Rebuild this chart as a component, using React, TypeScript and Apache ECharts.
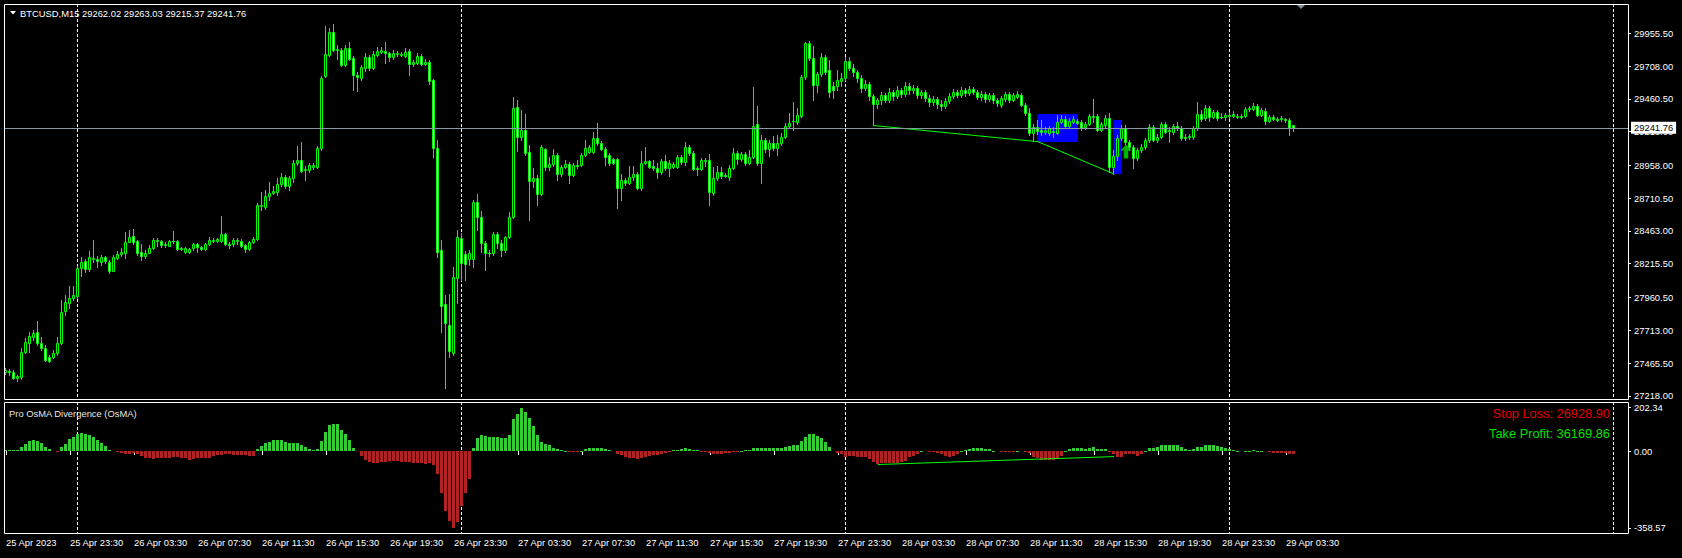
import React, { useEffect, useRef } from 'react';
import * as echarts from 'echarts';

// ---------------------------------------------------------------------------
// Data
// ---------------------------------------------------------------------------
const SYMBOL = 'BTCUSD,M15';
const INDICATOR = 'Pro OsMA Divergence (OsMA)';
const LAST_BAR = [29262.02, 29263.03, 29215.37, 29241.76]; // open, high, low, close
const STOP_LOSS = 26928.9;
const TAKE_PROFIT = 36169.86;

// 15-minute candles as [open, high, low, close]
const candles25Apr = [
  [27398, 27428, 27383, 27413], [27406, 27421, 27375, 27398], [27398, 27413, 27345, 27352], [27352, 27375, 27330, 27367],
  [27360, 27579, 27345, 27549], [27549, 27655, 27541, 27624], [27617, 27700, 27549, 27670], [27662, 27715, 27640, 27692],
  [27700, 27783, 27602, 27617], [27617, 27662, 27564, 27579], [27579, 27602, 27481, 27488], [27511, 27526, 27473, 27481],
  [27511, 27564, 27503, 27541], [27541, 27662, 27526, 27617], [27617, 27942, 27609, 27851], [27858, 27979, 27828, 27926],
  [27919, 28047, 27881, 27957], [27957, 28047, 27942, 27979],
];

const candles26Apr = [
  [27972, 28198, 27957, 28183], [28183, 28266, 28123, 28228], [28236, 28251, 28153, 28176], [28176, 28312, 28161, 28266],
  [28251, 28395, 28228, 28259], [28251, 28274, 28191, 28236], [28228, 28281, 28206, 28266], [28266, 28274, 28221, 28236],
  [28228, 28244, 28146, 28161], [28161, 28281, 28161, 28266], [28259, 28312, 28251, 28289], [28289, 28334, 28274, 28304],
  [28296, 28455, 28259, 28379], [28379, 28470, 28379, 28417], [28425, 28478, 28364, 28379], [28387, 28395, 28281, 28296],
  [28304, 28364, 28244, 28274], [28274, 28319, 28259, 28296], [28296, 28357, 28296, 28334], [28334, 28410, 28327, 28395],
  [28387, 28410, 28349, 28395], [28387, 28395, 28342, 28357], [28357, 28379, 28342, 28364], [28349, 28395, 28349, 28387],
  [28387, 28463, 28372, 28390], [28387, 28395, 28319, 28327], [28334, 28342, 28319, 28327], [28304, 28342, 28296, 28334],
  [28304, 28334, 28296, 28327], [28334, 28372, 28319, 28364], [28364, 28372, 28304, 28342], [28342, 28349, 28319, 28327],
  [28327, 28372, 28319, 28364], [28364, 28417, 28357, 28395], [28387, 28410, 28379, 28395], [28387, 28410, 28379, 28402],
  [28387, 28576, 28379, 28440], [28440, 28447, 28357, 28364], [28364, 28379, 28334, 28357], [28364, 28410, 28349, 28395],
  [28387, 28410, 28364, 28395], [28387, 28402, 28342, 28349], [28357, 28364, 28304, 28327], [28327, 28387, 28319, 28379],
  [28379, 28417, 28372, 28402], [28402, 28674, 28395, 28659], [28651, 28757, 28621, 28659], [28644, 28772, 28629, 28727],
  [28727, 28833, 28697, 28750], [28750, 28802, 28742, 28765], [28757, 28863, 28734, 28817], [28817, 28900, 28802, 28870],
  [28870, 28885, 28787, 28802], [28802, 28878, 28772, 28863], [28863, 28999, 28833, 28976], [28976, 29104, 28961, 28999],
  [28999, 29135, 28908, 28916], [28923, 28953, 28848, 28931], [28923, 28976, 28908, 28961], [28946, 28976, 28931, 28961],
  [28946, 29104, 28938, 29089], [29089, 29633, 29074, 29618], [29633, 30011, 29626, 29799], [29792, 29996, 29784, 29965],
  [29965, 30026, 29822, 29829], [29829, 29867, 29761, 29837], [29829, 29844, 29708, 29716], [29716, 29867, 29708, 29844],
  [29844, 29890, 29754, 29761], [29769, 29784, 29527, 29641], [29641, 29663, 29520, 29626], [29618, 29716, 29603, 29701],
  [29693, 29807, 29671, 29777], [29777, 29792, 29678, 29693], [29693, 29822, 29686, 29799], [29792, 29852, 29784, 29822],
  [29814, 29852, 29807, 29829], [29822, 29890, 29731, 29807], [29807, 29814, 29746, 29777], [29777, 29829, 29761, 29807],
  [29799, 29822, 29784, 29807], [29792, 29814, 29784, 29799], [29784, 29844, 29777, 29814], [29822, 29837, 29641, 29724],
  [29724, 29754, 29708, 29739], [29731, 29807, 29724, 29784], [29784, 29799, 29716, 29724], [29724, 29761, 29716, 29739],
  [29739, 29754, 29573, 29595], [29603, 29610, 29021, 29089], [29089, 29150, 28266, 28304], [28319, 28395, 27700, 27896],
  [27911, 27979, 27277, 27768], [27752, 27987, 27511, 27556], [27541, 28191, 27526, 28115], [28108, 28470, 27919, 28417],
];

const candles27Apr = [
  [28410, 28447, 28093, 28221], [28289, 28312, 28093, 28213], [28251, 28319, 28206, 28296], [28251, 28697, 28191, 28682],
  [28682, 28742, 28470, 28568], [28568, 28614, 28304, 28372], [28372, 28387, 28168, 28296], [28296, 28319, 28274, 28300],
  [28296, 28455, 28281, 28440], [28440, 28455, 28334, 28372], [28372, 28395, 28274, 28319], [28319, 28425, 28304, 28417],
  [28417, 28606, 28410, 28568], [28568, 29474, 28561, 29391], [29399, 29452, 29067, 29172], [29172, 29376, 29150, 29225],
  [29225, 29346, 29036, 29052], [29059, 29112, 28546, 28840], [28840, 28938, 28795, 28863], [28863, 28885, 28659, 28742],
  [28742, 29112, 28734, 29097], [29082, 29089, 28923, 28946], [28946, 29021, 28923, 28968], [28968, 29082, 28953, 29036],
  [29036, 29052, 28848, 28893], [28893, 28961, 28878, 28946], [28946, 28999, 28938, 28968], [28968, 28984, 28825, 28885],
  [28885, 28976, 28878, 28961], [28961, 28999, 28938, 28957], [28961, 29052, 28953, 29036], [29036, 29150, 29029, 29089],
  [29059, 29112, 29052, 29097], [29059, 29210, 29052, 29165], [29165, 29278, 29112, 29127], [29127, 29142, 29074, 29082],
  [29082, 29097, 28961, 29021], [29036, 29052, 28961, 28976], [29006, 29014, 28968, 28976], [29006, 29014, 28636, 28787],
  [28787, 28893, 28697, 28848], [28848, 28863, 28810, 28825], [28825, 28953, 28817, 28870], [28870, 28953, 28848, 28893],
  [28893, 28908, 28780, 28787], [28787, 29067, 28772, 28976], [28976, 29097, 28968, 28991], [28991, 28999, 28938, 28946],
  [28953, 28999, 28923, 28938], [28938, 28976, 28863, 28908], [28908, 29006, 28893, 28991], [28991, 29036, 28923, 28938],
  [28938, 28999, 28878, 28976], [28946, 28984, 28938, 28968], [28946, 29036, 28938, 29021], [29021, 29036, 28968, 28984],
  [28984, 29135, 28961, 29097], [29097, 29112, 29036, 29052], [29052, 29067, 28923, 28931], [28938, 28953, 28885, 28931],
  [28931, 29014, 28923, 28999], [28991, 29014, 28953, 28999], [28999, 29044, 28659, 28757], [28750, 28946, 28734, 28863],
  [28863, 28953, 28848, 28908], [28908, 28946, 28863, 28878], [28885, 28900, 28870, 28878], [28870, 28961, 28848, 28938],
  [28938, 29089, 28931, 29052], [29052, 29067, 28968, 29006], [29006, 29059, 28991, 29044], [29044, 29059, 28961, 28976],
  [28976, 29074, 28968, 29021], [29021, 29550, 29014, 29255], [29271, 29406, 28961, 28976], [28976, 29187, 28825, 29150],
  [29150, 29165, 29059, 29082], [29082, 29150, 29029, 29127], [29127, 29180, 29074, 29089], [29089, 29187, 29036, 29127],
  [29127, 29203, 29112, 29172], [29172, 29278, 29165, 29255], [29255, 29354, 29240, 29278], [29293, 29437, 29225, 29290],
  [29286, 29391, 29271, 29339], [29331, 29641, 29323, 29626], [29626, 29890, 29610, 29882], [29882, 29897, 29754, 29769],
  [29769, 29860, 29452, 29565], [29565, 29663, 29512, 29648], [29648, 29807, 29633, 29777], [29777, 29792, 29648, 29663],
  [29678, 29754, 29474, 29512], [29558, 29588, 29467, 29527], [29558, 29678, 29527, 29603], [29595, 29656, 29558, 29618],
];

const candles28Apr = [
  [29618, 29777, 29603, 29746], [29746, 29777, 29678, 29693], [29693, 29724, 29633, 29663], [29663, 29678, 29588, 29618],
  [29618, 29641, 29512, 29543], [29543, 29603, 29527, 29573], [29573, 29588, 29452, 29482], [29482, 29497, 29263, 29422],
  [29422, 29467, 29391, 29452], [29452, 29512, 29422, 29490], [29490, 29505, 29437, 29452], [29452, 29543, 29437, 29512],
  [29512, 29527, 29452, 29482], [29482, 29558, 29467, 29527], [29527, 29543, 29474, 29497], [29497, 29588, 29482, 29558],
  [29558, 29580, 29497, 29527], [29527, 29565, 29505, 29543], [29543, 29558, 29467, 29490], [29490, 29527, 29467, 29512],
  [29512, 29527, 29444, 29467], [29467, 29490, 29406, 29437], [29437, 29482, 29414, 29459], [29459, 29474, 29391, 29422],
  [29422, 29452, 29376, 29406], [29406, 29467, 29391, 29444], [29444, 29505, 29429, 29482], [29482, 29535, 29467, 29512],
  [29512, 29527, 29474, 29490], [29490, 29550, 29474, 29527], [29527, 29543, 29482, 29505], [29505, 29558, 29490, 29535],
  [29535, 29550, 29497, 29512], [29512, 29527, 29459, 29474], [29474, 29520, 29452, 29497], [29497, 29512, 29437, 29459],
  [29459, 29505, 29444, 29490], [29490, 29505, 29429, 29452], [29452, 29467, 29406, 29429], [29414, 29482, 29399, 29467],
  [29459, 29512, 29444, 29497], [29497, 29512, 29437, 29452], [29452, 29505, 29444, 29490], [29474, 29520, 29467, 29497],
  [29490, 29505, 29406, 29414], [29414, 29429, 29339, 29354], [29354, 29391, 29187, 29203], [29203, 29271, 29142, 29248],
  [29248, 29301, 29195, 29218], [29225, 29301, 29187, 29210], [29210, 29248, 29195, 29225], [29203, 29255, 29187, 29240],
  [29218, 29248, 29172, 29210], [29203, 29339, 29195, 29286], [29286, 29339, 29278, 29308], [29308, 29331, 29248, 29255],
  [29255, 29316, 29248, 29293], [29286, 29331, 29278, 29308], [29293, 29308, 29271, 29278], [29286, 29301, 29225, 29240],
  [29248, 29286, 29233, 29271], [29271, 29346, 29263, 29331], [29331, 29459, 29286, 29323], [29331, 29346, 29218, 29225],
  [29225, 29286, 29218, 29271], [29263, 29339, 29248, 29316], [29316, 29354, 28908, 28946], [28946, 29074, 28893, 29029],
  [29029, 29187, 28999, 29165], [29165, 29263, 29150, 29240], [29240, 29263, 29120, 29135], [29135, 29150, 29074, 29097],
  [29097, 29112, 28938, 29014], [29014, 29089, 28999, 29074], [29074, 29120, 29059, 29097], [29097, 29165, 29082, 29150],
  [29150, 29271, 29135, 29248], [29248, 29263, 29142, 29150], [29150, 29195, 29135, 29172], [29172, 29286, 29165, 29271],
  [29271, 29286, 29203, 29210], [29225, 29248, 29135, 29218], [29210, 29271, 29195, 29255], [29255, 29286, 29225, 29240],
  [29240, 29255, 29150, 29165], [29172, 29195, 29150, 29165], [29172, 29195, 29157, 29180], [29172, 29255, 29157, 29240],
  [29240, 29437, 29225, 29346], [29346, 29376, 29293, 29308], [29316, 29414, 29301, 29391], [29391, 29406, 29293, 29323],
  [29323, 29376, 29316, 29361], [29361, 29376, 29301, 29316], [29323, 29354, 29316, 29320], [29323, 29354, 29301, 29339],
];

const candles29Apr = [
  [29339, 29361, 29316, 29331], [29331, 29369, 29323, 29346], [29323, 29346, 29316, 29331], [29323, 29346, 29316, 29331],
  [29331, 29399, 29323, 29384], [29384, 29406, 29369, 29391], [29384, 29429, 29376, 29406], [29406, 29422, 29331, 29339],
  [29339, 29391, 29331, 29376], [29369, 29391, 29271, 29293], [29293, 29339, 29286, 29323], [29323, 29339, 29301, 29308],
  [29308, 29323, 29293, 29301], [29308, 29331, 29293, 29316], [29308, 29316, 29286, 29301], [29301, 29316, 29187, 29240],
  LAST_BAR,
];

// OsMA histogram, one value per candle
const osma = [
  4, 3, 3, 3, 18, 34, 45, 50, 46, 37,
  18, 8, 0, -3, 18, 34, 54, 65, 78, 84,
  81, 74, 65, 53, 37, 23, 3, 0, -6, -9,
  -14, -14, -9, -12, -23, -31, -34, -36, -31, -31,
  -31, -31, -28, -28, -31, -34, -40, -38, -34, -31,
  -31, -31, -23, -19, -19, -16, -16, -19, -19, -19,
  -19, -22, -22, 8, 23, 37, 43, 51, 53, 50,
  40, 37, 37, 37, 28, 18, 8, 6, 9, 46,
  87, 121, 127, 124, 96, 81, 50, 12, 0, -23,
  -40, -51, -54, -54, -50, -50, -46, -46, -46, -50,
  -50, -51, -54, -56, -56, -59, -54, -65, -108, -194,
  -279, -326, -358.57, -330, -256, -194, -132, 12, 59, 74,
  70, 65, 65, 65, 59, 59, 74, 150, 175, 202.34,
  182, 152, 116, 74, 43, 31, 28, 15, 10, 5,
  2, -3, -5, -4, 2, 8, 12, 15, 16, 14,
  10, 5, 0, -12, -20, -28, -32, -34, -38, -34,
  -28, -24, -20, -18, -12, -8, -5, 3, 6, 8,
  12, 10, 6, 3, -2, -3, -10, -14, -14, -12,
  -10, -8, -4, -2, 2, 3, 4, 14, 12, 14,
  14, 14, 14, 14, 16, 20, 24, 26, 30, 45,
  65, 78, 80, 72, 60, 40, 20, 0, -10, -16,
  -29, -21, -21, -26, -29, -29, -35, -50, -60, -58,
  -57, -56, -56, -55, -52, -48, -26, -21, -16, 1,
  0, -1, -1, -10, -16, -21, -26, -21, -16, 1,
  5, 10, 15, 15, 15, 10, 10, 1, 0, -6,
  -6, -1, -6, 1, 0, -6, -10, -29, -34, -40,
  -40, -40, -40, -31, -21, 1, 10, 15, 15, 15,
  10, 15, 21, 10, 10, 10, -5, -16, -29, -26,
  -16, -16, -16, -21, -16, 1, 15, 15, 21, 30,
  30, 30, 30, 30, 21, 10, 5, 10, 21, 21,
  30, 30, 30, 25, 21, 15, 10, 5, 1, 0,
  1, 1, 5, 1, 1, 0, -5, -10, -10, -10,
  -10, -16, -16,
];

// Axis ticks
const priceTicks = [27218, 27465.5, 27713, 27960.5, 28215.5, 28463, 28710.5, 28958, 29213, 29460.5, 29708, 29955.5];
const osmaTicks = [-358.57, 0, 202.34];
const timeTicks = [
  '25 Apr 2023', '25 Apr 23:30', '26 Apr 03:30', '26 Apr 07:30', '26 Apr 11:30', '26 Apr 15:30', '26 Apr 19:30',
  '26 Apr 23:30', '27 Apr 03:30', '27 Apr 07:30', '27 Apr 11:30', '27 Apr 15:30', '27 Apr 19:30', '27 Apr 23:30',
  '28 Apr 03:30', '28 Apr 07:30', '28 Apr 11:30', '28 Apr 15:30', '28 Apr 19:30', '28 Apr 23:30', '29 Apr 03:30',
];
const BARS_PER_TICK = 16;
const SLOT_COUNT = 406; // visible bar slots, including the empty right margin

// Objects drawn on the chart (bar index, value)
const daySeparators = [18, 114, 210, 306, 402];
const priceDivergence = [[217, 29259], [258, 29137], [277, 28893]];
const osmaDivergence = [[218, -63], [277, -26]];
const zones = [[258, 268, 29346, 29135], [277, 279, 29301, 28893]]; // from bar, to bar, top, bottom
const buySignal = [[280, 29064]];

// ---------------------------------------------------------------------------
// Styling
// ---------------------------------------------------------------------------
const LIME = '#00ff00';
const HIST_UP = '#32cd32';
const HIST_DOWN = '#b22222';
const FONT = '"Liberation Sans", Arial, sans-serif';
const SMALL = 9.4;

const candles = [...candles25Apr, ...candles26Apr, ...candles27Apr, ...candles28Apr, ...candles29Apr];
const slots = Array.from({ length: SLOT_COUNT }, (_, i) => String(i));
const isTick = (idx: number) => idx % BARS_PER_TICK === 0 && idx / BARS_PER_TICK < timeTicks.length;

const column = (api: any, i: number) => Math.round(api.coord([i, 0])[0]) - 1;

function renderCandle(_params: any, api: any) {
  const i = api.value(0);
  const o = api.value(1);
  const h = api.value(2);
  const l = api.value(3);
  const c = api.value(4);
  const x = column(api, i);
  const yo = Math.round(api.coord([i, o])[1]);
  const yc = Math.round(api.coord([i, c])[1]);
  const yh = Math.round(api.coord([i, h])[1]);
  const yl = Math.round(api.coord([i, l])[1]);
  const top = Math.min(yo, yc);
  const bottom = Math.max(yo, yc);
  const children: any[] = [
    { type: 'line', shape: { x1: x + 0.5, y1: yh, x2: x + 0.5, y2: yl + 1 }, style: { stroke: LIME, lineWidth: 1 } },
  ];
  if (bottom - top < 1) {
    children.push({ type: 'line', shape: { x1: x - 1, y1: top + 0.5, x2: x + 2, y2: top + 0.5 }, style: { stroke: LIME, lineWidth: 1 } });
  } else {
    children.push({
      type: 'rect',
      shape: { x: x - 0.5, y: top + 0.5, width: 2, height: bottom - top },
      style: { fill: c >= o ? '#000000' : '#ffffff', stroke: LIME, lineWidth: 1 },
    });
  }
  return { type: 'group', children };
}

function renderHistogram(_params: any, api: any) {
  const i = api.value(0);
  const v = api.value(1);
  if (!v) return null;
  const x = column(api, i);
  const y0 = Math.round(api.coord([i, 0])[1]);
  const y1 = Math.round(api.coord([i, v])[1]);
  const top = Math.min(y0, y1);
  const height = Math.max(1, Math.abs(y1 - y0));
  return { type: 'rect', shape: { x: x - 1, y: top, width: 3, height }, style: { fill: v > 0 ? HIST_UP : HIST_DOWN } };
}

function renderSeparator(params: any, api: any) {
  const x = column(api, api.value(0)) + 0.5;
  const cs = params.coordSys;
  return {
    type: 'line',
    shape: { x1: x, y1: cs.y, x2: x, y2: cs.y + cs.height },
    style: { stroke: '#ffffff', lineWidth: 1, lineDash: [3, 2] },
  };
}

function renderZone(_params: any, api: any) {
  const p1 = api.coord([api.value(0), api.value(2)]);
  const p2 = api.coord([api.value(1), api.value(3)]);
  const x1 = Math.round(p1[0]) - 1;
  const x2 = Math.round(p2[0]) - 1;
  const y1 = Math.round(p1[1]);
  const y2 = Math.round(p2[1]);
  return { type: 'rect', shape: { x: x1, y: y1, width: x2 - x1 + 1, height: y2 - y1 }, style: { fill: '#0000ff' } };
}

function buildOption() {
  const labelStyle = { color: '#ffffff', fontSize: SMALL, fontFamily: FONT };
  return {
    animation: false,
    backgroundColor: '#000000',
    grid: [
      { left: 4, top: 4, width: 1624, height: 395, show: false },
      { left: 4, top: 402, width: 1624, height: 131, show: false },
    ],
    xAxis: [
      {
        type: 'category', gridIndex: 0, data: slots, boundaryGap: true,
        axisLine: { show: false }, axisTick: { show: false }, axisLabel: { show: false }, splitLine: { show: false },
      },
      {
        type: 'category', gridIndex: 1, data: slots, boundaryGap: true,
        axisLine: { show: false },
        axisTick: { show: true, alignWithLabel: true, interval: (idx: number) => isTick(idx), length: 4, lineStyle: { color: '#ffffff' } },
        axisLabel: {
          ...labelStyle, show: true, interval: (idx: number) => isTick(idx), align: 'left', margin: 5,
          formatter: (_v: string, idx: number) => (isTick(idx) ? timeTicks[idx / BARS_PER_TICK] : ''),
        },
        splitLine: { show: false },
      },
    ],
    yAxis: [
      {
        type: 'value', gridIndex: 0, position: 'right', min: 27194, max: 30177,
        axisLine: { show: false }, splitLine: { show: false },
        axisTick: { show: true, customValues: priceTicks, length: 3, lineStyle: { color: '#ffffff' } },
        axisLabel: { ...labelStyle, customValues: priceTicks, margin: 6, formatter: (v: number) => v.toFixed(2) },
      },
      {
        type: 'value', gridIndex: 1, position: 'right', min: -383, max: 229,
        axisLine: { show: false }, splitLine: { show: false },
        axisTick: { show: true, customValues: osmaTicks, length: 3, lineStyle: { color: '#ffffff' } },
        axisLabel: { ...labelStyle, customValues: osmaTicks, margin: 6, formatter: (v: number) => v.toFixed(2) },
      },
    ],
    series: [
      {
        type: 'custom', name: 'zones', xAxisIndex: 0, yAxisIndex: 0, z: 1, silent: true, clip: true,
        encode: { x: [0, 1], y: [2, 3] }, data: zones, renderItem: renderZone,
      },
      {
        type: 'custom', name: 'separators', xAxisIndex: 0, yAxisIndex: 0, z: 2, silent: true, clip: false,
        encode: { x: 0, y: 1 }, data: daySeparators.map((i) => [i, 28000]), renderItem: renderSeparator,
      },
      {
        type: 'custom', name: SYMBOL, xAxisIndex: 0, yAxisIndex: 0, z: 3, silent: true, clip: true,
        encode: { x: 0, y: [1, 2, 3, 4] },
        data: candles.map((c, i) => [i, ...c]),
        renderItem: renderCandle,
        markLine: {
          silent: true, symbol: ['none', 'none'], animation: false,
          lineStyle: { color: '#8a97a4', width: 1, type: 'solid' },
          label: {
            show: true, position: 'end', distance: 3, formatter: LAST_BAR[3].toFixed(2),
            backgroundColor: '#ffffff', color: '#000000', padding: [2, 3, 1, 3], fontSize: SMALL, fontFamily: FONT,
          },
          emphasis: { disabled: true },
          data: [{ yAxis: LAST_BAR[3] }],
        },
      },
      {
        type: 'line', name: 'divergence', xAxisIndex: 0, yAxisIndex: 0, z: 4, silent: true,
        data: priceDivergence, symbol: 'none', lineStyle: { color: LIME, width: 1 },
      },
      {
        type: 'scatter', name: 'signal', xAxisIndex: 0, yAxisIndex: 0, z: 5, silent: true,
        data: buySignal, symbol: 'path://M6,0 L12,6 L8.5,6 L8.5,14 L3.5,14 L3.5,6 L0,6 Z', symbolSize: [11, 14],
        itemStyle: { color: '#00dd00' },
      },
      {
        type: 'custom', name: 'separators-osma', xAxisIndex: 1, yAxisIndex: 1, z: 2, silent: true, clip: false,
        encode: { x: 0, y: 1 }, data: daySeparators.map((i) => [i, 0]), renderItem: renderSeparator,
      },
      {
        type: 'custom', name: INDICATOR, xAxisIndex: 1, yAxisIndex: 1, z: 3, silent: true, clip: true,
        encode: { x: 0, y: 1 }, data: osma.map((v, i) => [i, v]), renderItem: renderHistogram,
      },
      {
        type: 'line', name: 'osma-divergence', xAxisIndex: 1, yAxisIndex: 1, z: 4, silent: true,
        data: osmaDivergence, symbol: 'none', lineStyle: { color: LIME, width: 1 },
      },
    ],
    graphic: [
      { type: 'rect', silent: true, z: 10, shape: { x: 4.5, y: 4.5, width: 1624, height: 395 }, style: { fill: 'none', stroke: '#ffffff', lineWidth: 1 } },
      { type: 'rect', silent: true, z: 10, shape: { x: 4.5, y: 402.5, width: 1624, height: 131 }, style: { fill: 'none', stroke: '#ffffff', lineWidth: 1 } },
      { type: 'polygon', silent: true, z: 10, shape: { points: [[10, 11], [16, 11], [13, 14.5]] }, style: { fill: '#ffffff' } },
      { type: 'polygon', silent: true, z: 10, shape: { points: [[1297, 5], [1305, 5], [1301, 9]] }, style: { fill: '#7f8a96' } },
      {
        type: 'text', silent: true, z: 10, x: 20, y: 13,
        style: { text: `${SYMBOL} ${LAST_BAR.map((v) => v.toFixed(2)).join(' ')}`, fill: '#ffffff', fontSize: SMALL, fontFamily: FONT, verticalAlign: 'middle' },
      },
      {
        type: 'text', silent: true, z: 10, x: 9, y: 413,
        style: { text: INDICATOR, fill: '#e6e6e6', fontSize: SMALL, fontFamily: FONT, verticalAlign: 'middle' },
      },
      {
        type: 'text', silent: true, z: 10, x: 1610, y: 413,
        style: { text: `Stop Loss: ${STOP_LOSS.toFixed(2)}`, fill: '#e00000', fontSize: 12.8, fontFamily: FONT, align: 'right', verticalAlign: 'middle' },
      },
      {
        type: 'text', silent: true, z: 10, x: 1610, y: 433,
        style: { text: `Take Profit: ${TAKE_PROFIT.toFixed(2)}`, fill: '#00e000', fontSize: 12.8, fontFamily: FONT, align: 'right', verticalAlign: 'middle' },
      },
    ],
  };
}

export default function App() {
  const ref = useRef<HTMLDivElement>(null);
  useEffect(() => {
    document.body.style.margin = '0';
    document.body.style.background = '#000000';
    const chart = echarts.init(ref.current as HTMLDivElement, null, { renderer: 'svg', width: 1682, height: 558 });
    chart.setOption(buildOption() as any);
    return () => chart.dispose();
  }, []);
  return <div ref={ref} style={{ width: 1682, height: 558 }} />;
}
